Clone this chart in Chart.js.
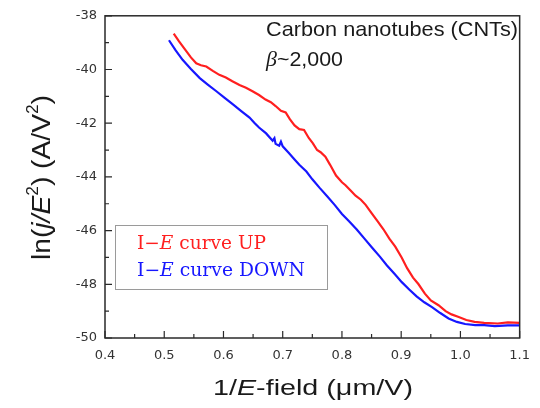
<!DOCTYPE html>
<html>
<head>
<meta charset="utf-8">
<script src="https://cdn.jsdelivr.net/npm/chart.js@4.4.0/dist/chart.umd.min.js"></script>
<style>
  html, body { margin: 0; padding: 0; background: #fff; }
  canvas { display: block; }
</style>
</head>
<body>
<canvas id="chart" width="540" height="408"></canvas>
<script>
// I-E curve UP (red)
const upX = [0.516, 0.525, 0.535, 0.545, 0.554, 0.562, 0.571, 0.582, 0.593, 0.604, 0.615, 0.627, 0.638, 0.649, 0.660, 0.671, 0.680, 0.688, 0.697, 0.705, 0.712, 0.720, 0.728, 0.736, 0.744, 0.751, 0.758, 0.764, 0.772, 0.780, 0.790, 0.800, 0.806, 0.815, 0.823, 0.832, 0.840, 0.850, 0.860, 0.870, 0.880, 0.890, 0.901, 0.910, 0.920, 0.929, 0.940, 0.950, 0.963, 0.975, 0.985, 0.996, 1.010, 1.024, 1.040, 1.063, 1.080, 1.100];
const upY = [-38.66, -38.95, -39.25, -39.55, -39.77, -39.84, -39.89, -40.05, -40.20, -40.30, -40.44, -40.58, -40.68, -40.81, -40.95, -41.12, -41.22, -41.36, -41.54, -41.60, -41.85, -42.08, -42.22, -42.25, -42.55, -42.75, -43.00, -43.08, -43.25, -43.55, -43.95, -44.20, -44.31, -44.52, -44.70, -44.85, -45.04, -45.35, -45.65, -45.95, -46.30, -46.60, -47.01, -47.40, -47.75, -47.99, -48.35, -48.60, -48.78, -49.00, -49.12, -49.21, -49.33, -49.40, -49.44, -49.46, -49.42, -49.44];

// I-E curve DOWN (blue)
const downX = [0.508, 0.519, 0.531, 0.545, 0.560, 0.574, 0.588, 0.602, 0.616, 0.630, 0.644, 0.652, 0.660, 0.672, 0.683, 0.686, 0.688, 0.694, 0.697, 0.700, 0.710, 0.720, 0.728, 0.740, 0.750, 0.762, 0.775, 0.788, 0.800, 0.812, 0.825, 0.838, 0.851, 0.864, 0.876, 0.889, 0.901, 0.914, 0.926, 0.939, 0.952, 0.966, 0.980, 0.994, 1.008, 1.025, 1.040, 1.058, 1.080, 1.100];
const downY = [-38.91, -39.28, -39.64, -39.98, -40.32, -40.57, -40.81, -41.06, -41.30, -41.55, -41.79, -41.98, -42.16, -42.38, -42.65, -42.56, -42.77, -42.84, -42.69, -42.86, -43.10, -43.35, -43.55, -43.80, -44.09, -44.40, -44.72, -45.05, -45.38, -45.65, -45.96, -46.30, -46.64, -46.97, -47.30, -47.62, -47.92, -48.20, -48.45, -48.67, -48.85, -49.07, -49.27, -49.40, -49.48, -49.52, -49.52, -49.56, -49.53, -49.53];

// axis ticks
const xTicks = [0.4, 0.5, 0.6, 0.7, 0.8, 0.9, 1.0, 1.1];
const yTicks = [-38, -40, -42, -44, -46, -48, -50];

const RED = '#ff1f1f';
const BLUE = '#1717ff';

const toPoints = (xs, ys) => xs.map((x, i) => ({ x: x, y: ys[i] }));

// draw mixed-font text starting at (x, cy), stretched horizontally to a given width
function drawFit(ctx, parts, x, cy, width, center) {
  let total = 0;
  parts.forEach(p => { ctx.font = p.font; p.w = ctx.measureText(p.t).width; total += p.w; });
  const sx = width ? width / total : 1;
  ctx.save();
  ctx.translate(center ? x - total * sx / 2 : x, cy);
  ctx.scale(sx, 1);
  ctx.textBaseline = 'middle';
  ctx.textAlign = 'left';
  let cx = 0;
  parts.forEach(p => {
    ctx.font = p.font;
    if (p.color) ctx.fillStyle = p.color;
    ctx.fillText(p.t, cx, p.dy || 0);
    cx += p.w;
  });
  ctx.restore();
}

const framePlugin = {
  id: 'frame',
  afterDatasetsDraw(chart) {
    const ctx = chart.ctx;
    const a = chart.chartArea;
    const xs = chart.scales.x;
    const ys = chart.scales.y;
    ctx.save();

    // box
    ctx.strokeStyle = '#2a2a2a';
    ctx.lineWidth = 1.5;
    ctx.strokeRect(a.left, a.top, a.right - a.left, a.bottom - a.top);

    // inward ticks
    ctx.lineWidth = 1.2;
    ctx.beginPath();
    for (let v = 0.4; v <= 1.1001; v += 0.05) {
      const px = xs.getPixelForValue(v);
      const major = Math.abs(v * 10 - Math.round(v * 10)) < 0.01;
      ctx.moveTo(px, a.bottom);
      ctx.lineTo(px, a.bottom - (major ? 7 : 4));
    }
    for (let v = -50; v <= -38; v += 1) {
      const py = ys.getPixelForValue(v);
      ctx.moveTo(a.left, py);
      ctx.lineTo(a.left + (v % 2 === 0 ? 7 : 4), py);
    }
    ctx.stroke();

    // legend box
    ctx.strokeStyle = '#9a9a9a';
    ctx.lineWidth = 1;
    ctx.strokeRect(115.5, 225.5, 212, 64);
    const serif = '18px "DejaVu Serif"';
    const serifI = 'italic 18px "DejaVu Serif"';
    drawFit(ctx, [
      { t: 'I\u2212', font: serif, color: RED },
      { t: 'E', font: serifI },
      { t: ' curve UP', font: serif }
    ], 137, 244, 129);
    drawFit(ctx, [
      { t: 'I\u2212', font: serif, color: BLUE },
      { t: 'E', font: serifI },
      { t: ' curve DOWN', font: serif }
    ], 137, 271, 168);

    // annotation
    ctx.fillStyle = '#1a1a1a';
    drawFit(ctx, [{ t: 'Carbon nanotubes (CNTs)', font: '21px Arial' }], 266, 30.5, 252);
    drawFit(ctx, [
      { t: '\u03b2', font: 'italic 21px "Liberation Serif"' },
      { t: '~2,000', font: '20.5px Arial' }
    ], 266, 60, 77);

    // x axis title
    drawFit(ctx, [
      { t: '1/', font: '22px Arial' },
      { t: 'E', font: 'italic 22px Arial' },
      { t: '-field (\u03bcm/V)', font: '22px Arial' }
    ], 313, 389, 200, true);

    // y axis title
    ctx.translate(43, 177.5);
    ctx.rotate(-Math.PI / 2);
    drawFit(ctx, [
      { t: 'ln(', font: '26px Arial' },
      { t: 'j/E', font: 'italic 26px Arial' },
      { t: '2', font: '16px Arial', dy: -9 },
      { t: ') (A/V', font: '26px Arial' },
      { t: '2', font: '16px Arial', dy: -9 },
      { t: ')', font: '26px Arial' }
    ], 0, 0, 165, true);

    ctx.restore();
  }
};

new Chart(document.getElementById('chart'), {
  type: 'scatter',
  data: {
    datasets: [
      {
        label: 'I-E curve UP',
        data: toPoints(upX, upY),
        showLine: true,
        borderColor: RED,
        borderWidth: 2.2,
        pointRadius: 0,
        tension: 0
      },
      {
        label: 'I-E curve DOWN',
        data: toPoints(downX, downY),
        showLine: true,
        borderColor: BLUE,
        borderWidth: 2.2,
        pointRadius: 0,
        tension: 0
      }
    ]
  },
  options: {
    responsive: false,
    devicePixelRatio: 1,
    animation: false,
    layout: { padding: { left: 0, top: 12, right: 18.5, bottom: 0 } },
    plugins: {
      legend: { display: false },
      tooltip: { enabled: false }
    },
    scales: {
      x: {
        type: 'linear',
        min: 0.4,
        max: 1.1,
        afterFit: s => { s.height = 70; },
        afterBuildTicks: s => { s.ticks = xTicks.map(v => ({ value: v })); },
        grid: { display: false, drawTicks: false },
        border: { display: false },
        ticks: {
          padding: 10,
          color: '#333',
          font: { family: '"DejaVu Sans"', size: 13 },
          callback: v => v.toFixed(1)
        }
      },
      y: {
        min: -50,
        max: -38,
        afterFit: s => { s.width = 105; },
        afterBuildTicks: s => { s.ticks = yTicks.map(v => ({ value: v })); },
        grid: { display: false, drawTicks: false },
        border: { display: false },
        ticks: {
          padding: 8,
          color: '#333',
          font: { family: '"DejaVu Sans"', size: 13 },
          callback: v => String(v)
        }
      }
    }
  },
  plugins: [framePlugin]
});
</script>
</body>
</html>
